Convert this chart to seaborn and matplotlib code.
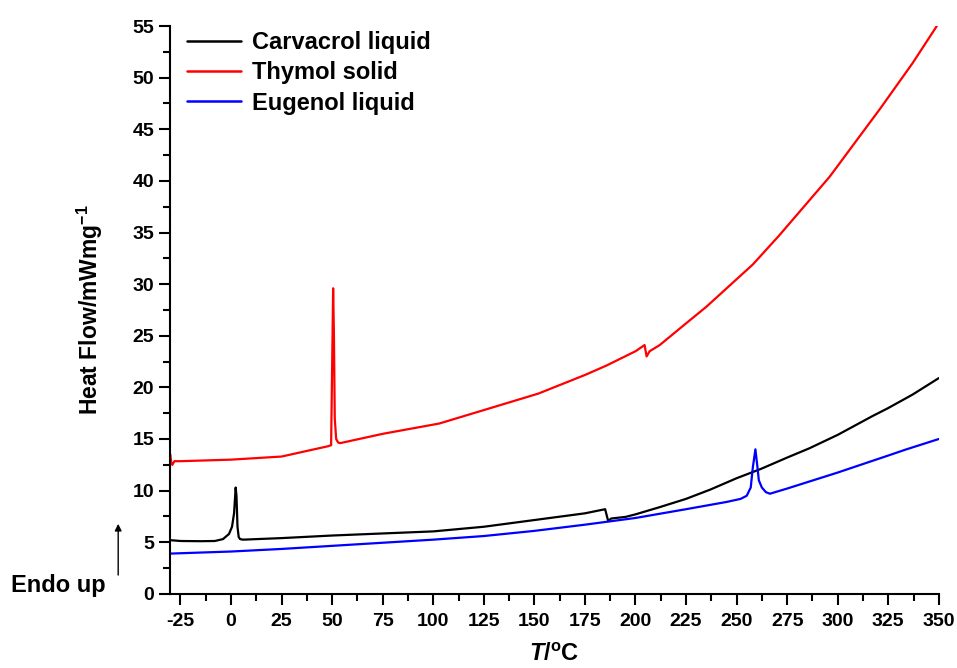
import matplotlib
matplotlib.use("Agg")
import matplotlib.pyplot as plt
import numpy as np
import pandas as pd
import seaborn as sns

# temperature (C) and heat flow (mW/mg)
carv_t = [-30, -25, -15, -8, -4, -1, 0.5, 1.5, 2.3, 2.7, 3.2, 3.8, 4.5, 6, 25, 50, 75, 100,
          125, 150, 175, 185, 186.5, 188, 195, 200, 212, 225, 237, 250, 262, 275, 286, 300,
          317, 325, 337, 350]
carv_y = [5.2, 5.12, 5.1, 5.12, 5.3, 5.8, 6.5, 7.8, 10.3, 9.5, 6.5, 5.5, 5.3, 5.25, 5.4, 5.65, 5.85, 6.05,
          6.5, 7.15, 7.8, 8.2, 7.05, 7.3, 7.45, 7.7, 8.4, 9.2, 10.1, 11.2, 12.1, 13.2, 14.1, 15.4,
          17.2, 18.0, 19.3, 20.9]

thym_t = [-30, -29.5, -29, -28, -25, 0, 25, 48, 49.5, 50.2, 50.5, 50.9, 51.3, 52, 53, 54, 75, 103,
          125, 152, 175, 185.5, 200, 204.5, 205.5, 207, 212, 225, 235, 258, 271, 296, 321, 337, 349]
thym_y = [13.5, 12.6, 12.5, 12.85, 12.85, 13.0, 13.3, 14.3, 14.4, 25, 29.6, 25, 17, 15.0, 14.65, 14.6, 15.5, 16.5,
          17.8, 19.4, 21.2, 22.1, 23.5, 24.1, 23.0, 23.5, 24.1, 26.2, 27.8, 31.9, 34.7, 40.4, 47.0, 51.4, 55.0]

eug_t = [-30, 0, 25, 50, 75, 100, 125, 150, 175, 200, 225, 245, 252, 255, 257, 258, 259.3, 260.3, 261,
         262.5, 264.5, 266.5, 275, 300, 325, 334, 350]
eug_y = [3.9, 4.1, 4.35, 4.65, 4.95, 5.25, 5.6, 6.1, 6.7, 7.35, 8.2, 8.9, 9.2, 9.5, 10.3, 12.2, 14.0, 12.3, 11.0,
         10.3, 9.85, 9.7, 10.2, 11.75, 13.4, 14.0, 15.0]

labels = ["Carvacrol liquid", "Thymol solid", "Eugenol liquid"]
colors = ["black", "#ff0000", "#0000ff"]

frames = []
for name, t, y in zip(labels, [carv_t, thym_t, eug_t], [carv_y, thym_y, eug_y]):
    frames.append(pd.DataFrame({"T": t, "HF": y, "sample": name}))
df = pd.concat(frames, ignore_index=True)

sns.set_style("ticks")
plt.rcParams["font.family"] = ["Liberation Sans", "DejaVu Sans"]
plt.rcParams["font.weight"] = "bold"
plt.rcParams["axes.unicode_minus"] = False
for key in ["text.color", "axes.labelcolor", "xtick.color", "ytick.color", "axes.edgecolor"]:
    plt.rcParams[key] = "black"
plt.rcParams["mathtext.fontset"] = "custom"
plt.rcParams["mathtext.rm"] = "Liberation Sans:bold"
plt.rcParams["mathtext.it"] = "Liberation Sans:bold:italic"
plt.rcParams["mathtext.bf"] = "Liberation Sans:bold"

fig = plt.figure(figsize=(9.57, 6.68), dpi=100)
ax = fig.add_axes([0.178, 0.111, 0.803, 0.85])

sns.lineplot(data=df, x="T", y="HF", hue="sample", palette=colors, sort=False,
             estimator=None, linewidth=1.6, ax=ax)

ax.set_xlim(-30, 350)
ax.set_ylim(0, 55)
ax.set_xticks(np.arange(-25, 351, 25))
ax.set_xticks(np.arange(-12.5, 351, 25), minor=True)
ax.set_yticks(np.arange(0, 56, 5))
ax.set_yticks(np.arange(2.5, 55, 5), minor=True)
ax.tick_params(axis="both", which="major", direction="out", length=8, width=1.5, labelsize=14)
ax.tick_params(axis="both", which="minor", direction="out", length=5, width=1.5)
ax.tick_params(axis="x", pad=6)
for lab in ax.get_xticklabels() + ax.get_yticklabels():
    lab.set_fontweight("bold")

sns.despine(ax=ax)
for s in ["left", "bottom"]:
    ax.spines[s].set_linewidth(1.5)

ax.set_xlabel("$T$/$^{\\rm o}$C", fontsize=17, fontweight="bold", labelpad=9)
ax.set_ylabel("Heat Flow/mWmg$^{-1}$", fontsize=16.5, fontweight="bold", labelpad=20)

leg = ax.legend(loc="upper left", bbox_to_anchor=(-0.006, 1.028), frameon=False,
                prop={"size": 17, "weight": "bold"}, handlelength=2.3,
                handletextpad=0.45, labelspacing=0.3)
for line in leg.get_lines():
    line.set_linewidth(1.8)

# "Endo up" marker
fig.text(0.011, 0.124, "Endo up", fontsize=17, fontweight="bold", ha="left", va="center")
fig.add_artist(matplotlib.patches.FancyArrowPatch((0.1235, 0.135), (0.1235, 0.22),
               transform=fig.transFigure, arrowstyle="-|>", mutation_scale=10,
               color="black", linewidth=1.0))

fig.savefig("out.png", dpi=100)
